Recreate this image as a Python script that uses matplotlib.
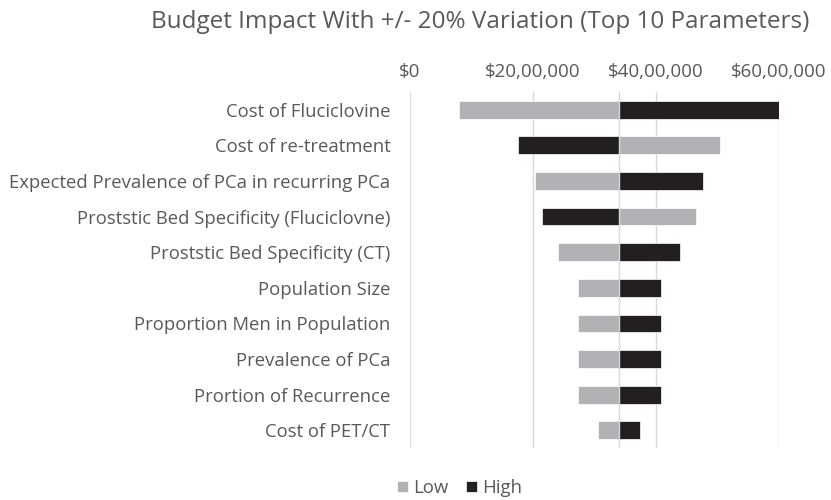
import matplotlib
matplotlib.use('Agg')
import matplotlib.pyplot as plt
from matplotlib.ticker import FuncFormatter

plt.rcParams['font.family'] = ['Open Sans', 'DejaVu Sans']

# parameters, top to bottom
params = ['Cost of Fluciclovine',
          'Cost of re-treatment',
          'Expected Prevalence of PCa in recurring PCa',
          'Proststic Bed Specificity (Fluciclovne)',
          'Proststic Bed Specificity (CT)',
          'Population Size',
          'Proportion Men in Population',
          'Prevalence of PCa',
          'Prortion of Recurrence',
          'Cost of PET/CT']
base = 3400000
low_vals = [790000, 5040000, 2040000, 4650000, 2410000,
            2730000, 2730000, 2730000, 2730000, 3060000]
high_vals = [6000000, 1760000, 4760000, 2150000, 4390000,
             4080000, 4080000, 4080000, 4080000, 3740000]
ticks = [0, 2000000, 4000000, 6000000]

grey = '#b1b2b5'
black = '#231f20'
txt = '#595959'


def indian(v, pos=None):
    # format number the Indian way: 20,00,000
    s = str(int(round(v)))
    if len(s) > 3:
        head, tail = s[:-3], s[-3:]
        parts = []
        while len(head) > 2:
            parts.insert(0, head[-2:])
            head = head[:-2]
        if head:
            parts.insert(0, head)
        s = ','.join(parts) + ',' + tail
    return '$' + s


fig = plt.figure(figsize=(8.31, 5), dpi=100)
ax = fig.add_axes([0.4934, 0.104, 0.4440, 0.712])

y = list(range(len(params)))
ax.barh(y, [v - base for v in low_vals], left=base, height=0.5,
        color=grey, edgecolor='white', linewidth=0.5, label='Low', zorder=3)
ax.barh(y, [v - base for v in high_vals], left=base, height=0.5,
        color=black, edgecolor='white', linewidth=0.5, label='High', zorder=3)

ax.set_xlim(0, 6000000)
ax.set_ylim(len(params) - 0.5, -0.5)
ax.set_xticks(ticks)
ax.xaxis.set_major_formatter(FuncFormatter(indian))
ax.xaxis.tick_top()
ax.set_yticks(y)
ax.set_yticklabels(params)
ax.tick_params(axis='both', length=0, colors=txt, labelsize=13.3)
ax.tick_params(axis='y', pad=14)
ax.tick_params(axis='x', labelsize=13.5, pad=8)
for s in ax.spines.values():
    s.set_visible(False)
ax.grid(axis='x', color='#d9d9d9', linewidth=1, zorder=0)
ax.axvline(base, color='#d9d9d9', linewidth=1, zorder=4)

fig.text(0.578, 0.955, 'Budget Impact With +/- 20% Variation (Top 10 Parameters)',
         ha='center', va='center', color=txt, fontsize=17.5)

fig.legend(loc='center', bbox_to_anchor=(0.553, 0.024), ncol=2, frameon=False,
           fontsize=13.4, labelcolor=txt, handlelength=0.6, handleheight=0.6,
           handletextpad=0.3, columnspacing=0.9)

plt.savefig('out.png', dpi=100)
